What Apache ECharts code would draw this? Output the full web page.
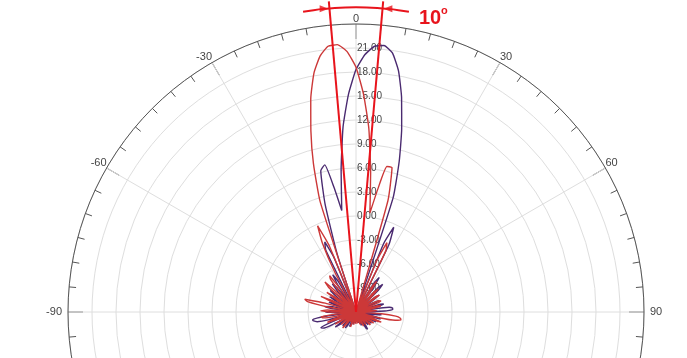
<!DOCTYPE html>
<html>
<head>
<meta charset="utf-8">
<script src="https://cdn.jsdelivr.net/npm/echarts@6/dist/echarts.min.js"></script>
<style>
  html, body { margin: 0; padding: 0; background: #ffffff; }
  #chart { width: 687px; height: 358px; }
</style>
</head>
<body>
<div id="chart"></div>
<script>
// Sampling angles (degrees, 0 = boresight, negative = left)
const ANGLES = [
  -180,-178,-176,-174,-172,-170,-168,-166,-164,-162,
  -160,-158,-156,-154,-152,-150,-148,-146,-144,-142,
  -140,-138,-136,-134,-132,-130,-128,-126,-124,-122,
  -120,-118,-116,-114,-112,-110,-108,-106,-104,-102,
  -100,-98,-96,-94,-92,-90,-88,-86,-84,-82,
  -80,-78,-76,-74,-72,-70,-68,-66,-64,-62,
  -60,-58,-56,-54,-52,-50,-48,-46,-44,-42,
  -40,-38,-36,-34,-32,-30,-28,-26,-24,-22,
  -20,-18,-16,-14,-12,-10,-8,-6,-4,-2,
  0,2,4,6,8,10,12,14,16,18,
  20,22,24,26,28,30,32,34,36,38,
  40,42,44,46,48,50,52,54,56,58,
  60,62,64,66,68,70,72,74,76,78,
  80,82,84,86,88,90,92,94,96,98,
  100,102,104,106,108,110,112,114,116,118,
  120,122,124,126,128,130,132,134,136,138,
  140,142,144,146,148,150,152,154,156,158,
  160,162,164,166,168,170,172,174,176,178
];

// Red pattern (beam steered to about -5 deg), dB
const RED_DB = [
  -10.5,-11,-12,-12,-11,-10.4,-11,-12,-12,-11,
  -10,-10.6,-12,-12,-11.5,-10.6,-11.2,-12,-12,-10.2,
  -9.4,-10.4,-12,-12,-10.6,-9.6,-10.8,-12,-12,-10,
  -9,-10.2,-12,-12,-9.6,-8.2,-9,-12,-12,-9.4,
  -7.8,-7.6,-9.2,-12,-12,-9,-7.6,-8.4,-12,-12,
  -8.6,-5.8,-5.4,-8,-12,-12,-9.4,-7.2,-8.8,-12,
  -12,-9.6,-7.6,-9,-12,-12,-7.4,-6.6,-8.8,-12,
  -9.6,-6.8,-6.4,-8.6,-12,-12,-6.4,-2.4,-0.2,-3,
  -12,2.5,7.3,11.3,15.2,18.3,20.3,21.4,21.5,20.6,
  18.6,15.2,11,5.5,0.5,3.5,6.6,6.6,2.5,-12,
  -12,-5,-2.5,-3.5,-12,-12,-8.4,-7.4,-9.4,-12,
  -12,-8.6,-8,-9.8,-12,-12,-8.8,-8.4,-10.4,-12,
  -12,-10,-8.8,-8.6,-10,-12,-12,-9.4,-8.8,-9.6,
  -12,-12,-10.2,-9.4,-10.4,-12,-12,-8.8,-7,-6.4,
  -6.3,-7,-9,-12,-12,-9.6,-8.6,-9.4,-12,-12,
  -10.2,-9.4,-10.4,-12,-12,-9.8,-9.6,-11,-12,-12,
  -10.4,-10,-11.4,-12,-12,-10.2,-10,-11,-12,-12,
  -10.6,-10.4,-11.4,-12,-12,-10.8,-10.6,-11.6,-12,-12
];

// Purple pattern (beam steered to about +5 deg), dB
const PURPLE_DB = [
  -12,-11,-10.6,-11.4,-12,-12,-10.8,-10.4,-11.2,-12,
  -12,-10.4,-10,-11,-12,-12,-10,-9.6,-10.8,-12,
  -12,-10,-9.6,-10.6,-12,-12,-9.4,-8.8,-10,-12,
  -12,-8.6,-7.4,-7.2,-9,-12,-12,-8.4,-7,-6.6,
  -6.5,-8,-12,-12,-9.4,-8.2,-9,-12,-12,-9,
  -8,-8.6,-12,-12,-9.6,-8.4,-9.2,-12,-12,-9.2,
  -8.2,-9.4,-12,-12,-9,-7.8,-8.6,-12,-12,-8.8,
  -7.4,-8.2,-12,-8,-6.5,-7.6,-12,-3.4,-2.4,-4.6,
  -12,-4.4,2,6.2,6.8,3.8,0.8,5.8,11.2,15.2,
  18.3,20.2,21.3,21.5,20.7,18.6,15.4,11.6,7.6,3,
  -12,-2.8,-0.4,-2.6,-12,-12,-7.6,-6.8,-8.4,-12,
  -12,-8,-7.2,-8.2,-12,-12,-9.2,-8.4,-9.6,-12,
  -12,-9.6,-8.8,-9.8,-12,-12,-9,-8.4,-9.4,-12,
  -9.8,-7.8,-7.4,-7.4,-8.4,-12,-12,-9.6,-8.8,-9.6,
  -12,-12,-9.4,-8.8,-9.8,-12,-12,-9.8,-9.2,-10.4,
  -12,-12,-10,-9.6,-10.8,-12,-12,-10.2,-9.8,-11,
  -12,-12,-10,-9.4,-9.6,-11,-12,-12,-10.4,-10.2,
  -11.4,-12,-12,-10.8,-10.6,-11.6,-12,-12,-11,-11.6
];

// Axis settings
const R_MIN = -12, R_MAX = 24, R_STEP = 3;
const ANGLE_LABEL_STEP = 30;

// Beamwidth annotation (10 degrees between the two lines at -5 and +5)
const BEAM_ANGLES = [-5, 5];
const BEAM_REACH = 27;           // annotation lines run past the rim (dB units)
const ARC_LEVEL = 26.1;
const ARC_ANGLES = [-10, -8, -6, -4, -2, 0, 2, 4, 6, 8, 10];
const ARROW_ANGLES = [-6, 6];
const BEAM_TEXT = '10';

function wrapAngle(a) { return a < 0 ? a + 360 : a; }
function toPolar(vals) {
  const d = ANGLES.map((a, i) => [vals[i], wrapAngle(a)]);
  d.push(d[0]);
  return d;
}

const chart = echarts.init(document.getElementById('chart'), null, { renderer: 'canvas' });
const FONT = 'Liberation Sans, Arial, sans-serif';
const RED_ANN = '#e8141c';
const CX = 356, CY = 312, RIM = 288;

const series = [
  {
    name: 'purple', type: 'line', coordinateSystem: 'polar', polarIndex: 0,
    data: toPolar(PURPLE_DB), showSymbol: false, smooth: 0.15,
    lineStyle: { color: '#4a2a70', width: 1.4 }, z: 3, animation: false
  },
  {
    name: 'red', type: 'line', coordinateSystem: 'polar', polarIndex: 0,
    data: toPolar(RED_DB), showSymbol: false, smooth: 0.15,
    lineStyle: { color: '#cc3838', width: 1.4 }, z: 4, animation: false
  }
];
BEAM_ANGLES.forEach((a, i) => {
  series.push({
    name: 'beam' + i, type: 'line', coordinateSystem: 'polar', polarIndex: 1,
    data: [[R_MIN, wrapAngle(a)], [BEAM_REACH, wrapAngle(a)]],
    showSymbol: false, lineStyle: { color: RED_ANN, width: 2 }, z: 10, animation: false
  });
});
series.push({
  name: 'arc', type: 'line', coordinateSystem: 'polar', polarIndex: 1,
  data: ARC_ANGLES.map(a => [ARC_LEVEL, wrapAngle(a)]),
  showSymbol: false, smooth: true, lineStyle: { color: RED_ANN, width: 2 }, z: 10, animation: false
});
series.push({
  name: 'arrows', type: 'scatter', coordinateSystem: 'polar', polarIndex: 1,
  data: ARROW_ANGLES.map(a => ({ value: [ARC_LEVEL, wrapAngle(a)], symbolRotate: a < 0 ? -90 : 90 })),
  symbol: 'triangle', symbolSize: [7, 9],
  itemStyle: { color: RED_ANN }, z: 11, animation: false
});

const R_ANN_MAX = R_MIN + (R_MAX - R_MIN) * 312 / RIM; // same dB-per-pixel scale, larger reach

chart.setOption({
  backgroundColor: '#ffffff',
  animation: false,
  textStyle: { fontFamily: FONT },
  polar: [
    { center: [CX, CY], radius: RIM },
    { center: [CX, CY], radius: 312 }
  ],
  angleAxis: [
    {
      polarIndex: 0,
      type: 'value', min: 0, max: 360, interval: ANGLE_LABEL_STEP,
      startAngle: 90, clockwise: true,
      axisLine: { show: true, lineStyle: { color: '#555555', width: 1 } },
      axisTick: { show: true, inside: true, length: 15, lineStyle: { color: '#555555', width: 1 } },
      minorTick: { show: true, splitNumber: 6, length: 7, lineStyle: { color: '#555555', width: 1 } },
      axisLabel: {
        margin: 0, color: '#444444', fontSize: 11, fontFamily: FONT,
        formatter: v => {
          if (v === 360) return '';
          const t = String(v > 180 ? v - 360 : v);
          if (v === 90) return '{r|' + t + '}';
          if (v === 270) return '{l|' + t + '}';
          return t;
        },
        rich: {
          r: { padding: [0, 0, 0, 6], fontSize: 11, color: '#444444', fontFamily: FONT },
          l: { padding: [0, 6, 0, 0], fontSize: 11, color: '#444444', fontFamily: FONT }
        }
      },
      splitLine: { show: true, lineStyle: { color: '#dedede', width: 1 } }
    },
    {
      polarIndex: 1, show: false,
      type: 'value', min: 0, max: 360, startAngle: 90, clockwise: true
    }
  ],
  radiusAxis: [
    {
      polarIndex: 0,
      type: 'value', min: R_MIN, max: R_MAX, interval: R_STEP,
      axisLine: { show: false }, axisTick: { show: false },
      axisLabel: {
        margin: -1, align: 'left', color: '#444444', fontSize: 10, fontFamily: FONT,
        formatter: v => (v === R_MAX || v === R_MIN ? '' : v.toFixed(2))
      },
      splitLine: { show: true, lineStyle: { color: '#dedede', width: 1 } }
    },
    {
      polarIndex: 1, show: false,
      type: 'value', min: R_MIN, max: R_ANN_MAX
    }
  ],
  graphic: [
    { type: 'text', left: 419, top: 8, z: 20,
      style: { text: BEAM_TEXT, font: 'bold 20px ' + FONT, fill: RED_ANN } },
    { type: 'text', left: 441, top: 5, z: 20,
      style: { text: 'o', font: 'bold 11px ' + FONT, fill: RED_ANN } }
  ],
  series: series
});
</script>
</body>
</html>
